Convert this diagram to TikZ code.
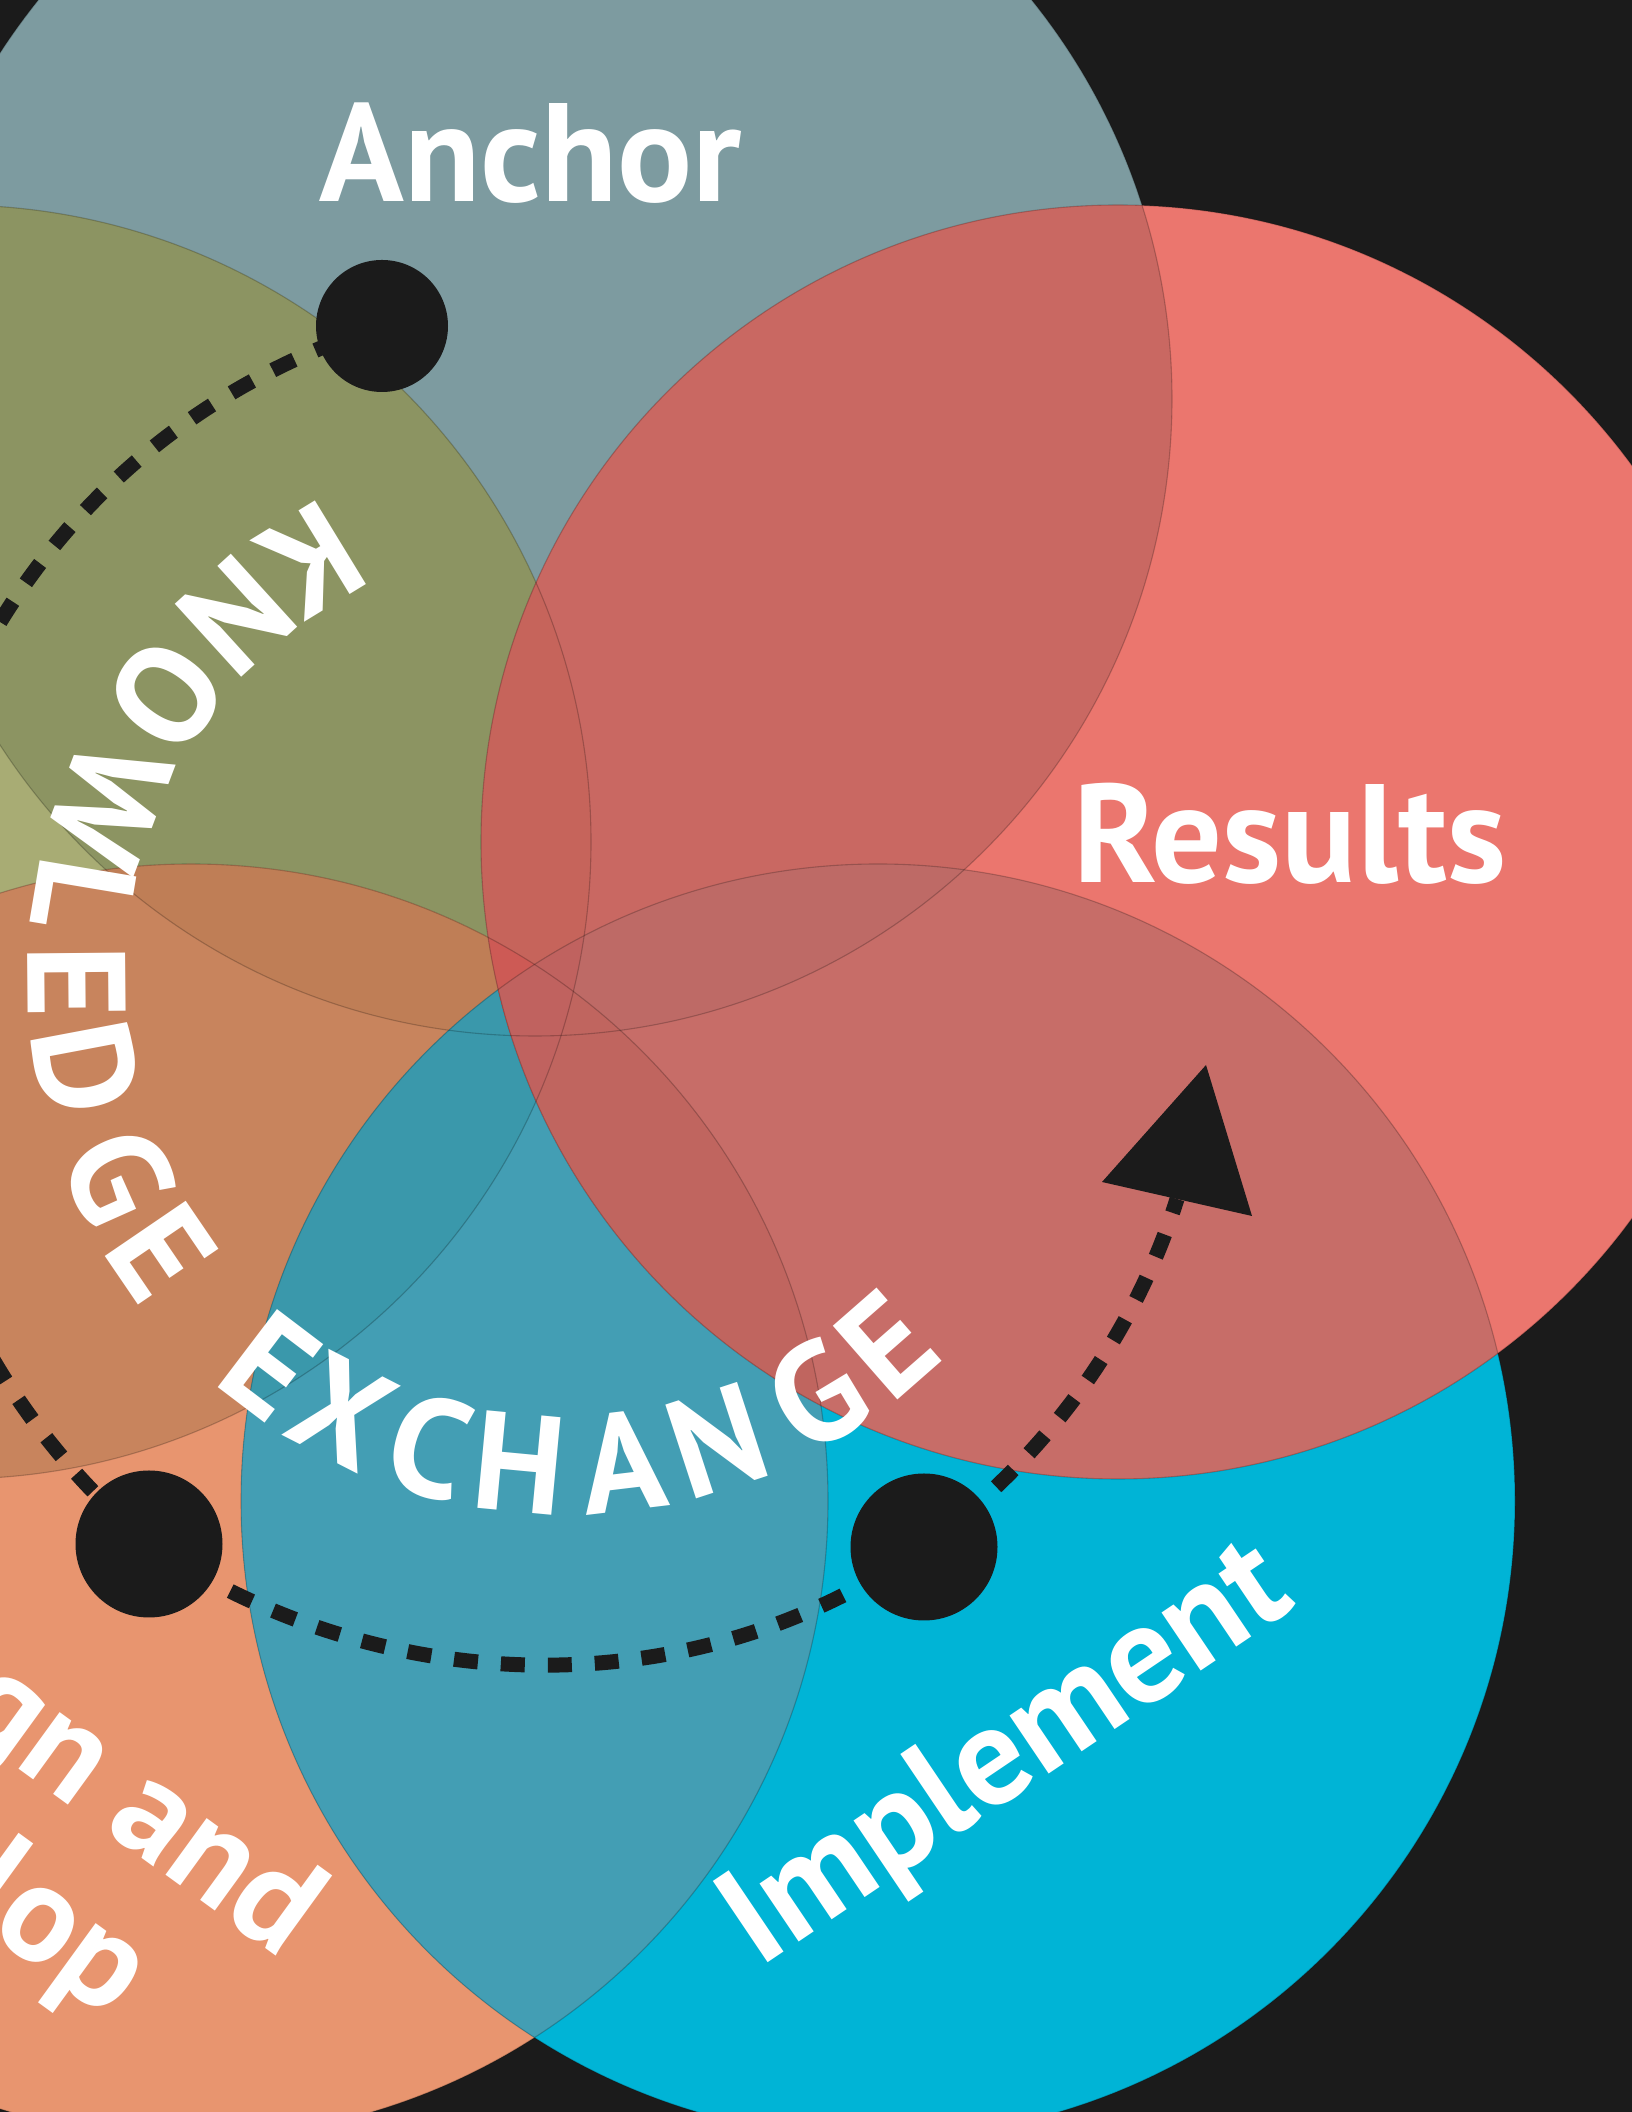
\documentclass[tikz,border=0pt]{standalone}
\usepackage{fontspec}
\setmainfont{PT Sans}
\definecolor{bgc}{HTML}{1B1B1B}
\definecolor{colA}{HTML}{7D9BA0}
\definecolor{colK}{HTML}{A8AC74}
\definecolor{colAK}{HTML}{8C9462}
\definecolor{colD}{HTML}{E8956F}
\definecolor{colDK}{HTML}{C8845D}
\definecolor{colDKA}{HTML}{BF7E56}
\definecolor{colI}{HTML}{00B4D6}
\definecolor{colDI}{HTML}{439EB4}
\definecolor{colDIK}{HTML}{3A98AB}
\definecolor{colR}{HTML}{EB766E}
\definecolor{colRA}{HTML}{C96862}
\definecolor{colRI}{HTML}{C76D68}
\definecolor{colRAK}{HTML}{C6645B}
\definecolor{colRAI}{HTML}{BE6A66}
\definecolor{colRID}{HTML}{C0655F}
\definecolor{colRIK}{HTML}{C0625F}
\definecolor{colRAKD}{HTML}{CD5A55}
\pgfdeclarelayer{fg}
\pgfsetlayers{main,fg}
\begin{document}
\begin{tikzpicture}[x=1pt,y=1pt,
  lbl/.style={text=white,font=\bfseries\fontsize{140}{150}\selectfont,inner sep=0pt},
  arclet/.style={lbl,anchor=center},
  blackdot/.style={circle,fill=bgc,draw=none,inner sep=0pt},
  dotline/.style={draw=bgc,line width=15pt,dash pattern=on 24pt off 23pt},
  outl/.style={draw=black,draw opacity=0.22,line width=1.1pt,fill=none}]
\useasboundingbox (0,0) rectangle (1632,2112);
\clip (0,0) rectangle (1632,2112);
\fill[bgc] (0,0) rectangle (1632,2112);
\def\rr{637}
\coordinate (cA) at (535,1713);
\coordinate (cK) at (-46,1270);
\coordinate (cR) at (1118,1270);
\coordinate (cD) at (191,611);
\coordinate (cI) at (878,611);
% Anchor
\fill[colA] (cA) circle[radius=\rr];
% Knowledge
\fill[colK] (cK) circle[radius=\rr];
\begin{scope}\clip (cK) circle[radius=\rr]; \fill[colAK] (cA) circle[radius=\rr];\end{scope}
% Design
\fill[colD] (cD) circle[radius=\rr];
\begin{scope}\clip (cD) circle[radius=\rr]; \fill[colDK] (cK) circle[radius=\rr];\end{scope}
\begin{scope}\clip (cD) circle[radius=\rr]; \clip (cK) circle[radius=\rr]; \fill[colDKA] (cA) circle[radius=\rr];\end{scope}
% Implement
\fill[colI] (cI) circle[radius=\rr];
\begin{scope}\clip (cI) circle[radius=\rr]; \fill[colDI] (cD) circle[radius=\rr];\end{scope}
\begin{scope}\clip (cI) circle[radius=\rr]; \fill[colDIK] (cK) circle[radius=\rr];\end{scope}
% Results
\fill[colR] (cR) circle[radius=\rr];
\begin{scope}\clip (cR) circle[radius=\rr]; \fill[colRA] (cA) circle[radius=\rr];\end{scope}
\begin{scope}\clip (cR) circle[radius=\rr]; \fill[colRI] (cI) circle[radius=\rr];\end{scope}
\begin{scope}\clip (cR) circle[radius=\rr]; \clip (cA) circle[radius=\rr]; \fill[colRAK] (cK) circle[radius=\rr];\end{scope}
\begin{scope}\clip (cR) circle[radius=\rr]; \clip (cA) circle[radius=\rr]; \fill[colRAI] (cI) circle[radius=\rr];\end{scope}
\begin{scope}\clip (cR) circle[radius=\rr]; \clip (cI) circle[radius=\rr]; \fill[colRID] (cD) circle[radius=\rr];\end{scope}
\begin{scope}\clip (cR) circle[radius=\rr]; \clip (cI) circle[radius=\rr]; \fill[colRIK] (cK) circle[radius=\rr];\end{scope}
\begin{scope}\clip (cR) circle[radius=\rr]; \clip (cA) circle[radius=\rr]; \clip (cK) circle[radius=\rr]; \fill[colRAKD] (cD) circle[radius=\rr];\end{scope}
\begin{scope}\clip (cR) circle[radius=\rr]; \clip (cA) circle[radius=\rr]; \clip (cK) circle[radius=\rr]; \clip (cD) circle[radius=\rr]; \fill[colRIK] (cI) circle[radius=\rr];\end{scope}
% thin outlines
\foreach \c in {cA,cK,cR,cD,cI} \draw[outl] (\c) circle[radius=\rr];
% dots and arrow head (front layer)
\coordinate (arrbase) at (1177,913);
\coordinate (tipA) at (1206,1047);
\coordinate (tipB) at (1102,930);
\coordinate (tipC) at (1252,896);
\begin{pgfonlayer}{fg}
\node[blackdot,minimum size=132pt] (dotT) at (382,1786) {};
\node[blackdot,minimum size=147pt] (dotBL) at (149,568) {};
\node[blackdot,minimum size=147pt] (dotBR) at (924,565) {};
\fill[bgc] (tipA) -- (tipB) -- (tipC) -- cycle;
\end{pgfonlayer}
% dotted connectors
\draw[dotline] (dotT.center) .. controls (-148,1620) and (-275,927) .. (dotBL.center);
\draw[dotline] (dotBL.center) .. controls (383,411) and (693,403) .. (dotBR.center);
\draw[dotline] (dotBR.center) .. controls (1043,652) and (1133,773) .. (arrbase);
% labels
\node[lbl,anchor=base] (lanchor) at (531,1910) {Anchor};
\node[lbl,anchor=base] (lresults) at (1290,1229) {Results};
\node[lbl,anchor=base,rotate=34] (limpl) at (1029,325) {Implement};
\node[lbl,anchor=base east,rotate=-36] (ldes1) at (282,152) {Design and};
\node[lbl,anchor=base east,rotate=-36] (ldes2) at (110,92) {Develop};
% curved text
\coordinate (tc) at (565,1135);
\foreach \a/\l [count=\i] in {121.4/K,132.3/N,144.7/O,159.3/W,170.5/L,180.5/E,190.7/D,204.1/G,214.3/E,232.8/E,242.9/X,253.9/C,264.6/H,276.8/A,288.1/N,301.1/G,311.2/E}
  \node[arclet,rotate=\a+90] (arcl\i) at ([shift={(\a:488)}]tc) {\l};
\end{tikzpicture}
\end{document}
